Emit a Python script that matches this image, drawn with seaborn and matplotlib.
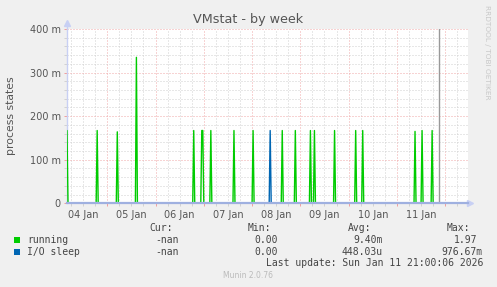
import matplotlib
matplotlib.use("Agg")
import numpy as np
import pandas as pd
import matplotlib.pyplot as plt
import matplotlib.dates as mdates
from matplotlib.ticker import FixedLocator, FixedFormatter, MultipleLocator, FuncFormatter, NullFormatter
from matplotlib.patches import Rectangle
import seaborn as sns

# ---------------- data ----------------
series_names = ["running", "I/O sleep"]
series_colors = ["#00CC00", "#0066B3"]

running_peaks = [
    "2026-01-04 04:00", "2026-01-04 19:00", "2026-01-05 05:00", "2026-01-05 14:30",
    "2026-01-06 19:00", "2026-01-06 23:00", "2026-01-06 23:30", "2026-01-07 03:30",
    "2026-01-07 15:00", "2026-01-08 00:30", "2026-01-08 15:00", "2026-01-08 21:30",
    "2026-01-09 05:00", "2026-01-09 07:00", "2026-01-09 17:00", "2026-01-10 03:30",
    "2026-01-10 07:00", "2026-01-11 09:00", "2026-01-11 12:30", "2026-01-11 17:30",
]
running_values = [
    0.167, 0.167, 0.164, 0.335,
    0.167, 0.167, 0.167, 0.167,
    0.167, 0.167, 0.167, 0.167,
    0.167, 0.167, 0.167, 0.167,
    0.167, 0.165, 0.167, 0.167,
]
io_sleep_peaks = ["2026-01-08 09:00"]
io_sleep_values = [0.167]

first_sample = "2026-01-04 03:30"
last_sample = "2026-01-11 21:00"
last_update = "2026-01-11 21:00:06"
x_start = "2026-01-04 04:00"
x_end = "2026-01-12 11:20"

y_ticks = [0.0, 0.1, 0.2, 0.3, 0.4]
y_tick_labels = ["0", "100 m", "200 m", "300 m", "400 m"]

legend_cur = ["-nan", "-nan"]
legend_min = ["0.00", "0.00"]
legend_avg = ["9.40m", "448.03u"]
legend_max = ["1.97", "976.67m"]

# ---------------- build long table ----------------
grid = pd.date_range(first_sample, last_sample, freq="30min")
frames = []
for name, peaks, vals in [("running", running_peaks, running_values),
                          ("I/O sleep", io_sleep_peaks, io_sleep_values)]:
    s = pd.Series(0.0, index=grid)
    for p, v in zip(peaks, vals):
        s[pd.Timestamp(p)] = v
    frames.append(pd.DataFrame({"time": grid, "value": s.values, "series": name}))
df = pd.concat(frames, ignore_index=True)

# ---------------- figure ----------------
W, H = 497, 287
fig = plt.figure(figsize=(W / 100, H / 100), dpi=100, facecolor="#F0F0F0")
ax = fig.add_axes([67 / W, 1 - 203.3 / H, 401 / W, 174.3 / H])
ax.set_facecolor("white")

sns.lineplot(data=df, x="time", y="value", hue="series", hue_order=series_names,
             palette=series_colors, linewidth=1.0, legend=False, estimator=None,
             ax=ax, zorder=2)

ax.axvline(pd.Timestamp(last_update), color="#999999", linewidth=1.0, zorder=2.2)

ax.set_xlim(pd.Timestamp(x_start), pd.Timestamp(x_end))
ax.set_ylim(0, 0.4)

# grid / ticks
ax.xaxis.set_major_locator(mdates.DayLocator())
ax.xaxis.set_major_formatter(NullFormatter())
ax.xaxis.set_minor_locator(mdates.HourLocator(byhour=[6, 12, 18]))
ax.xaxis.set_minor_formatter(FuncFormatter(
    lambda x, pos: mdates.num2date(x).strftime("%d %b") if mdates.num2date(x).hour == 12 else ""))
ax.yaxis.set_major_locator(FixedLocator(y_ticks))
ax.yaxis.set_major_formatter(FixedFormatter(y_tick_labels))
ax.yaxis.set_minor_locator(MultipleLocator(0.02))

dot = (0, (1, 2))
ax.grid(which="major", color="#f0a8a8", linestyle=dot, linewidth=0.72)
ax.grid(which="minor", color="#d0d0d0", linestyle=dot, linewidth=0.72)
ax.set_axisbelow(True)

ax.tick_params(axis="x", which="major", length=2, width=0.72, color="#f0a0a0")
ax.tick_params(axis="x", which="minor", length=2, width=0.72, color="#d2d2d2",
               labelsize=7, labelcolor="#555555", pad=2.5)
ax.tick_params(axis="y", which="major", length=2.5, width=0.72, color="#f0a0a0",
               labelsize=7, labelcolor="#555555", pad=2)
ax.tick_params(axis="y", which="minor", length=2, width=0.72, color="#d2d2d2")

ax.set_xlabel("")
ax.set_ylabel("")
for side in ["top", "right"]:
    ax.spines[side].set_visible(False)
ax.spines["bottom"].set_color("#9fb0e0")
ax.spines["bottom"].set_linewidth(1.6)
ax.spines["bottom"].set_zorder(5)
ax.spines["left"].set_color("#c8d0f4")
ax.spines["left"].set_linewidth(1.0)
ax.spines["left"].set_zorder(1.5)

# axis arrows
ax.plot([0, 0], [1.0, 1.035], transform=ax.transAxes, color="#c8d0f4", lw=1.0, clip_on=False)
ax.plot([0], [1.035], transform=ax.transAxes, marker="^", markersize=4, color="#c8d0f4",
        clip_on=False)
ax.plot([1.0, 1.006], [0, 0], transform=ax.transAxes, color="#b8c4f0", lw=1.0, clip_on=False)
ax.plot([1.006], [0], transform=ax.transAxes, marker=">", markersize=4, color="#c8d0f4",
        clip_on=False)

# ---------------- texts ----------------
def fx(px):
    return px / W

def fy(py):
    return 1 - py / H

fig.text(fx(248), fy(19), "VMstat - by week", ha="center", va="center",
         fontsize=9.2, color="#555555")
fig.text(fx(11), fy(116), "process states", ha="center", va="center", rotation=90,
         fontsize=7.8, color="#555555")
fig.text(fx(487), fy(5), "RRDTOOL / TOBI OETIKER", ha="center", va="top", rotation=270,
         fontsize=5.3, color="#c8c8c8")

mono = dict(family="DejaVu Sans Mono", fontsize=7.0, color="#444444", va="center")
fig.text(fx(149), fy(227.7), "Cur:", ha="left", **mono)
fig.text(fx(248), fy(227.7), "Min:", ha="left", **mono)
fig.text(fx(348), fy(227.7), "Avg:", ha="left", **mono)
fig.text(fx(447), fy(227.7), "Max:", ha="left", **mono)

row_y = [240, 251.7]
for i, name in enumerate(series_names):
    y = row_y[i]
    fig.add_artist(Rectangle((fx(14), fy(y + 2.8)), 6 / W, 6 / H, transform=fig.transFigure,
                             facecolor=series_colors[i], edgecolor="none"))
    fig.text(fx(27), fy(y), name, ha="left", **mono)
    fig.text(fx(179), fy(y), legend_cur[i], ha="right", **mono)
    fig.text(fx(278), fy(y), legend_min[i], ha="right", **mono)
    fig.text(fx(383), fy(y), legend_avg[i], ha="right", **mono)
    fig.text(fx(477 if i == 0 else 483), fy(y), legend_max[i], ha="right", **mono)

fig.text(fx(483), fy(263.3), "Last update: Sun Jan 11 21:00:06 2026", ha="right", **mono)
fig.text(fx(248), fy(276), "Munin 2.0.76", ha="center", va="center", fontsize=5.5,
         color="#bbbbbb")

fig.savefig("out.png", dpi=100, facecolor=fig.get_facecolor())
